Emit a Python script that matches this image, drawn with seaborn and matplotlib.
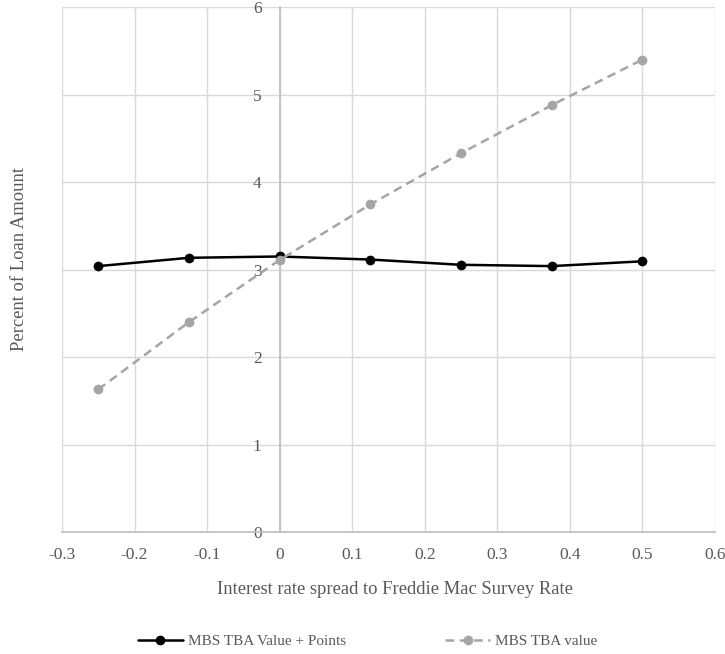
import numpy as np
import pandas as pd
import seaborn as sns
import matplotlib.pyplot as plt

# ------------------------
# Data
# ------------------------
spread = [-0.25, -0.125, 0.0, 0.125, 0.25, 0.375, 0.5]
tba_plus_points = [3.04, 3.135, 3.15, 3.115, 3.055, 3.04, 3.095]
tba_value = [1.63, 2.40, 3.11, 3.745, 4.33, 4.88, 5.40]

x_ticks = [-0.3, -0.2, -0.1, 0, 0.1, 0.2, 0.3, 0.4, 0.5, 0.6]
x_tick_labels = ['-0.3', '-0.2', '-0.1', '0', '0.1', '0.2', '0.3', '0.4', '0.5', '0.6']
y_ticks = [0, 1, 2, 3, 4, 5, 6]

sns.set_theme(style="whitegrid")
plt.rcParams['font.family'] = ['Liberation Serif', 'DejaVu Serif']
text_col = '#595959'

fig = plt.figure(figsize=(7.25, 6.54), dpi=100)
ax = fig.add_axes([0.0855, 0.1865, 0.9005, 0.8025])

sns.lineplot(x=spread, y=tba_plus_points, ax=ax, color='black', lw=1.8,
             marker='o', markersize=7, markeredgewidth=0,
             label='MBS TBA Value + Points', legend=False)
sns.lineplot(x=spread, y=tba_value, ax=ax, color='#A5A5A5', lw=1.8,
             linestyle=(0, (3.5, 2.2)), marker='o', markersize=7, markeredgewidth=0,
             label='MBS TBA value', legend=False)

ax.set_xlim(-0.3, 0.6)
ax.set_ylim(0, 6)
ax.set_xticks(x_ticks)
ax.set_xticklabels(x_tick_labels)
ax.set_yticks(y_ticks)

ax.grid(True, color='#D9D9D9', lw=1.0)
ax.set_axisbelow(True)
for side in ['top', 'right']:
    ax.spines[side].set_visible(False)
ax.spines['left'].set_position(('data', 0))
ax.spines['left'].set_color('#BFBFBF')
ax.spines['bottom'].set_color('#BFBFBF')
ax.spines['left'].set_zorder(1)

ax.tick_params(axis='both', length=0, colors=text_col, labelsize=12.5)
ax.tick_params(axis='x', pad=11)
ax.tick_params(axis='y', pad=13)

ax.set_xlabel('Interest rate spread to Freddie Mac Survey Rate', color=text_col, fontsize=13.4)
ax.set_ylabel('Percent of Loan Amount', color=text_col, fontsize=13.4)
ax.xaxis.set_label_coords(0.51, -0.094)
ax.yaxis.set_label_coords(-0.052, 0.52)

handles, labels = ax.get_legend_handles_labels()
leg = fig.legend(handles, labels, loc='lower center', bbox_to_anchor=(0.507, -0.012),
                 ncol=2, frameon=False, fontsize=11, handlelength=2.95,
                 columnspacing=6.5, handletextpad=0.33)
for t in leg.get_texts():
    t.set_color(text_col)

plt.savefig('out.png', dpi=100)
